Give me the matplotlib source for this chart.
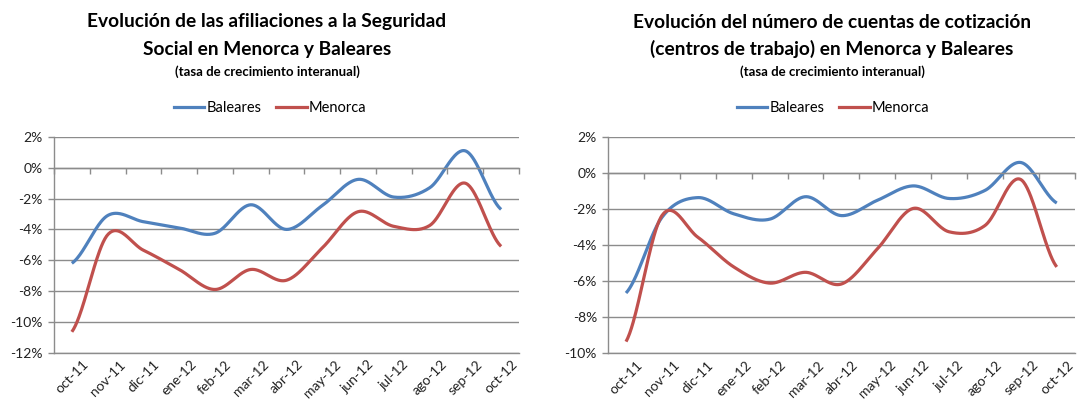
import numpy as np
import matplotlib
matplotlib.use("Agg")
import matplotlib.pyplot as plt

plt.rcParams['font.family'] = ['Lato', 'DejaVu Sans']

months = ["oct-11", "nov-11", "dic-11", "ene-12", "feb-12", "mar-12", "abr-12",
          "may-12", "jun-12", "jul-12", "ago-12", "sep-12", "oct-12"]

# Left chart: afiliaciones a la Seguridad Social (%)
afil_baleares = [-6.2, -3.1, -3.5, -3.9, -4.25, -2.4, -4.0, -2.45, -0.75, -1.9, -1.3, 1.1, -2.7]
afil_menorca = [-10.65, -4.35, -5.35, -6.6, -7.9, -6.6, -7.3, -5.2, -2.85, -3.8, -3.75, -1.0, -5.1]

# Right chart: cuentas de cotización (%)
cuen_baleares = [-6.65, -2.45, -1.35, -2.25, -2.55, -1.3, -2.35, -1.5, -0.7, -1.4, -0.95, 0.6, -1.65]
cuen_menorca = [-9.35, -2.35, -3.55, -5.2, -6.1, -5.5, -6.15, -4.2, -1.95, -3.25, -2.9, -0.35, -5.2]

left_ticks = [2, 0, -2, -4, -6, -8, -10, -12]
right_ticks = [2, 0, -2, -4, -6, -8, -10]

BLUE = "#4F81BD"
RED = "#C0504D"
GRID = "#8C8C8C"


def catmull_rom(y, n=40):
    y = np.asarray(y, dtype=float)
    x = np.arange(len(y), dtype=float)
    xs, ys = [], []
    for i in range(len(y) - 1):
        p0 = y[i - 1] if i > 0 else y[i]
        p1, p2 = y[i], y[i + 1]
        p3 = y[i + 2] if i + 2 < len(y) else y[i + 1]
        t = np.linspace(0, 1, n, endpoint=False)
        yy = 0.5 * ((2 * p1) + (-p0 + p2) * t + (2 * p0 - 5 * p1 + 4 * p2 - p3) * t ** 2
                    + (-p0 + 3 * p1 - 3 * p2 + p3) * t ** 3)
        xs.append(x[i] + t)
        ys.append(yy)
    xs.append([x[-1]])
    ys.append([y[-1]])
    return np.concatenate(xs), np.concatenate(ys)


fig = plt.figure(figsize=(10.77, 4.03), dpi=100)

axL = fig.add_axes([0.0501, 0.125, 0.4318, 0.535])
axR = fig.add_axes([0.5646, 0.1233, 0.4333, 0.536])


def setup(ax, bal, men, ticks):
    for ser, col in ((bal, BLUE), (men, RED)):
        xs, ys = catmull_rom(ser)
        ax.plot(xs, ys, color=col, lw=2.3, solid_capstyle='butt')
    ax.set_xlim(-0.5, len(months) - 0.5)
    ax.set_ylim(min(ticks), max(ticks))
    ax.set_yticks(ticks)
    ax.set_yticklabels([f"{t}%" for t in ticks])
    ax.yaxis.grid(True, color=GRID, lw=1)
    ax.set_axisbelow(True)
    ax.set_xticks(range(len(months)))
    ax.set_xticklabels(months)
    ax.set_xticks(np.arange(-0.5, len(months) + 0.5, 1), minor=True)
    ax.tick_params(axis='x', which='major', length=0, pad=4, labelsize=10,
                   colors='#222222', labelrotation=45)
    ax.tick_params(axis='x', which='minor', bottom=False, top=True, direction='in',
                   length=4, color=GRID, width=1)
    ax.tick_params(axis='y', which='major', length=4, color=GRID, width=1,
                   labelsize=10, labelcolor='#222222', pad=4)
    for lab in ax.get_xticklabels():
        lab.set_ha('right')
        lab.set_va('top')
        lab.set_rotation_mode('anchor')
    ax.spines['right'].set_visible(False)
    ax.spines['top'].set_position(('data', 0))
    ax.spines['top'].set_color(GRID)
    ax.spines['left'].set_color(GRID)
    ax.spines['bottom'].set_color(GRID)
    for s in ax.spines.values():
        s.set_linewidth(1)


setup(axL, afil_baleares, afil_menorca, left_ticks)
setup(axR, cuen_baleares, cuen_menorca, right_ticks)


def titles(xc, l1, l2):
    fig.text(xc, 1 - 22 / 403, l1, ha='center', va='center', fontsize=13.8, fontweight='bold')
    fig.text(xc, 1 - 49 / 403, l2, ha='center', va='center', fontsize=13.8, fontweight='bold')
    fig.text(xc, 1 - 72 / 403, "(tasa de crecimiento interanual)", ha='center', va='center',
             fontsize=9.5, fontweight='bold')


titles(267 / 1077, "Evolución de las afiliaciones a la Seguridad",
       "Social en Menorca y Baleares")
titles(832 / 1077, "Evolución del número de cuentas de cotización",
       "(centros de trabajo) en Menorca y Baleares")

for ax, xc in ((axL, 270 / 1077), (axR, 833 / 1077)):
    hb, = ax.plot([], [], color=BLUE, lw=2.3, label="Baleares")
    hm, = ax.plot([], [], color=RED, lw=2.3, label="Menorca")
    fig.legend(handles=[hb, hm], loc='center', bbox_to_anchor=(xc, 1 - 108 / 403), ncol=2,
               frameon=False, fontsize=10.5, handlelength=2.1, handletextpad=0.15,
               columnspacing=1.0)

fig.savefig("out.png", dpi=100)
